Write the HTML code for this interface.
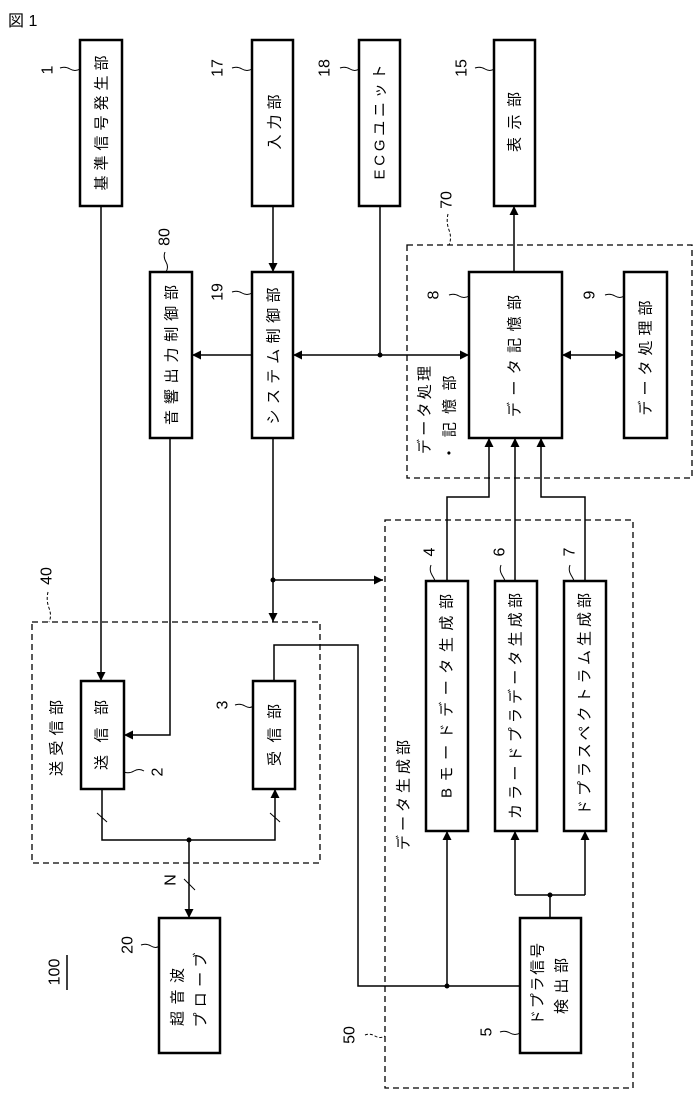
<!DOCTYPE html>
<html><head><meta charset="utf-8"><style>
html,body{margin:0;padding:0;background:#fff;}
svg{display:block;}
text{font-family:"Liberation Sans","Noto Sans CJK JP",sans-serif;fill:#000;}
</style></head><body>
<svg width="694" height="1099" viewBox="0 0 694 1099" xmlns="http://www.w3.org/2000/svg">
<defs>
<marker id="a" viewBox="0 0 10 10" refX="10" refY="5" markerWidth="9" markerHeight="9" orient="auto-start-reverse" markerUnits="userSpaceOnUse"><path d="M0,0 L10,5 L0,10 Z" fill="#000"/></marker>
</defs>
<text x="8" y="26" font-size="16">図 1</text>
<g fill="none" stroke="#000" stroke-width="2.5">
<rect x="80" y="40" width="42" height="166"/>
<rect x="252" y="40" width="41" height="166"/>
<rect x="359" y="40" width="41" height="166"/>
<rect x="494" y="40" width="41" height="166"/>
<rect x="150" y="272" width="42" height="166"/>
<rect x="252" y="272" width="41" height="166"/>
<rect x="469" y="272" width="93" height="166"/>
<rect x="624" y="272" width="43" height="166"/>
<rect x="81" y="681" width="43" height="108"/>
<rect x="253" y="681" width="42" height="108"/>
<rect x="426" y="581" width="42" height="250"/>
<rect x="495" y="581" width="42" height="250"/>
<rect x="564" y="581" width="42" height="250"/>
<rect x="520" y="918" width="61" height="135"/>
<rect x="159" y="918" width="61" height="135"/>
</g>
<g fill="none" stroke="#000" stroke-width="1.3" stroke-dasharray="6,4">
<rect x="407" y="245" width="285" height="233"/>
<rect x="32" y="622" width="288" height="241"/>
<rect x="385" y="520" width="248" height="568"/>
</g>
<g fill="none" stroke="#000" stroke-width="1.5">
<line x1="101" y1="206" x2="101" y2="681" marker-end="url(#a)"/>
<line x1="273" y1="206" x2="273" y2="272" marker-end="url(#a)"/>
<polyline points="380,206 380,355"/>
<line x1="380" y1="355" x2="293" y2="355" marker-end="url(#a)"/>
<line x1="380" y1="355" x2="469" y2="355" marker-end="url(#a)"/>
<line x1="252" y1="355" x2="192" y2="355" marker-end="url(#a)"/>
<line x1="514" y1="272" x2="514" y2="206" marker-end="url(#a)"/>
<line x1="562" y1="355" x2="624" y2="355" marker-start="url(#a)" marker-end="url(#a)"/>
<polyline points="447,581 447,497 489,497 489,438" marker-end="url(#a)"/>
<line x1="515" y1="581" x2="515" y2="438" marker-end="url(#a)"/>
<polyline points="585,581 585,497 541,497 541,438" marker-end="url(#a)"/>
<polyline points="170,438 170,735 124,735" marker-end="url(#a)"/>
<line x1="273" y1="438" x2="273" y2="622" marker-end="url(#a)"/>
<line x1="273" y1="580" x2="383" y2="580" marker-end="url(#a)"/>
<polyline points="274,681 274,645 358,645 358,986 520,986"/>
<line x1="447" y1="986" x2="447" y2="831" marker-end="url(#a)"/>
<polyline points="102,789 102,840 275,840 275,789" marker-end="url(#a)"/>
<line x1="189" y1="840" x2="189" y2="918" marker-end="url(#a)"/>
<polyline points="550,918 550,895"/>
<polyline points="515,895 585,895"/>
<line x1="515" y1="895" x2="515" y2="831" marker-end="url(#a)"/>
<line x1="585" y1="895" x2="585" y2="831" marker-end="url(#a)"/>
<line x1="97" y1="813" x2="107" y2="822" stroke-width="1"/>
<line x1="270" y1="813" x2="280" y2="822" stroke-width="1"/>
<line x1="184" y1="879" x2="195" y2="890" stroke-width="1"/>
<line x1="67" y1="955" x2="67" y2="990"/>
<!-- leaders -->
<path d="M60,68 q5,-2 10,1 t10,0" stroke-width="1"/>
<path d="M232,68 q5,-2 10,1 t10,0" stroke-width="1"/>
<path d="M340,68 q5,-2 10,1 t9,0" stroke-width="1"/>
<path d="M475,68 q5,-2 10,1 t9,0" stroke-width="1"/>
<path d="M165,252 q-2,5 1,10 t0,10" stroke-width="1"/>
<path d="M232,292 q5,-2 10,1 t10,0" stroke-width="1"/>
<path d="M448,214 q-2,8 1,16 t0,15" stroke-width="1" stroke-dasharray="3,2"/>
<path d="M449,295 q5,-2 10,1 t10,0" stroke-width="1"/>
<path d="M605,295 q5,-2 10,1 t9,0" stroke-width="1"/>
<path d="M48,592 q-2,8 1,16 t0,14" stroke-width="1" stroke-dasharray="3,2"/>
<path d="M124,772 q5,2 10,-1 t10,0" stroke-width="1"/>
<path d="M235,705 q5,-2 10,1 t8,0" stroke-width="1"/>
<path d="M141,945 q5,-2 10,1 t8,0" stroke-width="1"/>
<path d="M365,1035 q5,-2 10,1 t10,0" stroke-width="1" stroke-dasharray="3,2"/>
<path d="M500,1032 q5,-2 10,1 t10,0" stroke-width="1"/>
<path d="M431,565 q-2,5 1,10 t3,6" stroke-width="1"/>
<path d="M501,565 q-2,5 1,10 t3,6" stroke-width="1"/>
<path d="M570,565 q-2,5 1,10 t3,6" stroke-width="1"/>
</g>
<g fill="#000">
<circle cx="380" cy="355" r="2.5"/><circle cx="273" cy="580" r="2.5"/>
<circle cx="189" cy="840" r="2.5"/><circle cx="447" cy="986" r="2.5"/>
<circle cx="550" cy="895" r="2.5"/>
</g>
<g font-size="15">
<text transform="translate(102,123) rotate(-90)" text-anchor="middle" dominant-baseline="central" textLength="135" lengthAdjust="spacing">基準信号発生部</text>
<text transform="translate(275,122) rotate(-90)" text-anchor="middle" dominant-baseline="central" textLength="55" lengthAdjust="spacing">入力部</text>
<text transform="translate(380,122) rotate(-90)" text-anchor="middle" dominant-baseline="central" textLength="115" lengthAdjust="spacing">ECGユニット</text>
<text transform="translate(515,122) rotate(-90)" text-anchor="middle" dominant-baseline="central" textLength="60" lengthAdjust="spacing">表示部</text>
<text transform="translate(172,355) rotate(-90)" text-anchor="middle" dominant-baseline="central" textLength="140" lengthAdjust="spacing">音響出力制御部</text>
<text transform="translate(274,356) rotate(-90)" text-anchor="middle" dominant-baseline="central" textLength="137" lengthAdjust="spacing">システム制御部</text>
<text transform="translate(515,356) rotate(-90)" text-anchor="middle" dominant-baseline="central" textLength="122" lengthAdjust="spacing">データ記憶部</text>
<text transform="translate(646,358) rotate(-90)" text-anchor="middle" dominant-baseline="central" textLength="115" lengthAdjust="spacing">データ処理部</text>
<text transform="translate(425,410) rotate(-90)" text-anchor="middle" dominant-baseline="central" textLength="88" lengthAdjust="spacing">データ処理</text>
<text transform="translate(450,418) rotate(-90)" text-anchor="middle" dominant-baseline="central" textLength="85" lengthAdjust="spacing">・記憶部</text>
<text transform="translate(102,735) rotate(-90)" text-anchor="middle" dominant-baseline="central" textLength="70" lengthAdjust="spacing">送信部</text>
<text transform="translate(275,735) rotate(-90)" text-anchor="middle" dominant-baseline="central" textLength="62" lengthAdjust="spacing">受信部</text>
<text transform="translate(57,738) rotate(-90)" text-anchor="middle" dominant-baseline="central" textLength="76" lengthAdjust="spacing">送受信部</text>
<text transform="translate(447,696) rotate(-90)" text-anchor="middle" dominant-baseline="central" textLength="204" lengthAdjust="spacing">Bモードデータ生成部</text>
<text transform="translate(516,706) rotate(-90)" text-anchor="middle" dominant-baseline="central" textLength="226" lengthAdjust="spacing">カラードプラデータ生成部</text>
<text transform="translate(585,704) rotate(-90)" text-anchor="middle" dominant-baseline="central" textLength="222" lengthAdjust="spacing">ドプラスペクトラム生成部</text>
<text transform="translate(404,795) rotate(-90)" text-anchor="middle" dominant-baseline="central" textLength="110" lengthAdjust="spacing">データ生成部</text>
<text transform="translate(538,984) rotate(-90)" text-anchor="middle" dominant-baseline="central" textLength="82" lengthAdjust="spacing">ドプラ信号</text>
<text transform="translate(562,986) rotate(-90)" text-anchor="middle" dominant-baseline="central" textLength="56" lengthAdjust="spacing">検出部</text>
<text transform="translate(178,997) rotate(-90)" text-anchor="middle" dominant-baseline="central" textLength="58" lengthAdjust="spacing">超音波</text>
<text transform="translate(201,990) rotate(-90)" text-anchor="middle" dominant-baseline="central" textLength="75" lengthAdjust="spacing">プローブ</text>
</g>
<g font-size="16">
<text transform="translate(48,70) rotate(-90)" text-anchor="middle" dominant-baseline="central">1</text>
<text transform="translate(218,68) rotate(-90)" text-anchor="middle" dominant-baseline="central">17</text>
<text transform="translate(325,68) rotate(-90)" text-anchor="middle" dominant-baseline="central">18</text>
<text transform="translate(462,68) rotate(-90)" text-anchor="middle" dominant-baseline="central">15</text>
<text transform="translate(165,237) rotate(-90)" text-anchor="middle" dominant-baseline="central">80</text>
<text transform="translate(218,292) rotate(-90)" text-anchor="middle" dominant-baseline="central">19</text>
<text transform="translate(447,200) rotate(-90)" text-anchor="middle" dominant-baseline="central">70</text>
<text transform="translate(434,295) rotate(-90)" text-anchor="middle" dominant-baseline="central">8</text>
<text transform="translate(590,295) rotate(-90)" text-anchor="middle" dominant-baseline="central">9</text>
<text transform="translate(47,576) rotate(-90)" text-anchor="middle" dominant-baseline="central">40</text>
<text transform="translate(158,772) rotate(-90)" text-anchor="middle" dominant-baseline="central">2</text>
<text transform="translate(223,705) rotate(-90)" text-anchor="middle" dominant-baseline="central">3</text>
<text transform="translate(171,880) rotate(-90)" text-anchor="middle" dominant-baseline="central">N</text>
<text transform="translate(128,945) rotate(-90)" text-anchor="middle" dominant-baseline="central">20</text>
<text transform="translate(55,972) rotate(-90)" text-anchor="middle" dominant-baseline="central">100</text>
<text transform="translate(350,1035) rotate(-90)" text-anchor="middle" dominant-baseline="central">50</text>
<text transform="translate(487,1032) rotate(-90)" text-anchor="middle" dominant-baseline="central">5</text>
<text transform="translate(430,552) rotate(-90)" text-anchor="middle" dominant-baseline="central">4</text>
<text transform="translate(500,552) rotate(-90)" text-anchor="middle" dominant-baseline="central">6</text>
<text transform="translate(570,552) rotate(-90)" text-anchor="middle" dominant-baseline="central">7</text>
</g>
</svg>
</body></html>
